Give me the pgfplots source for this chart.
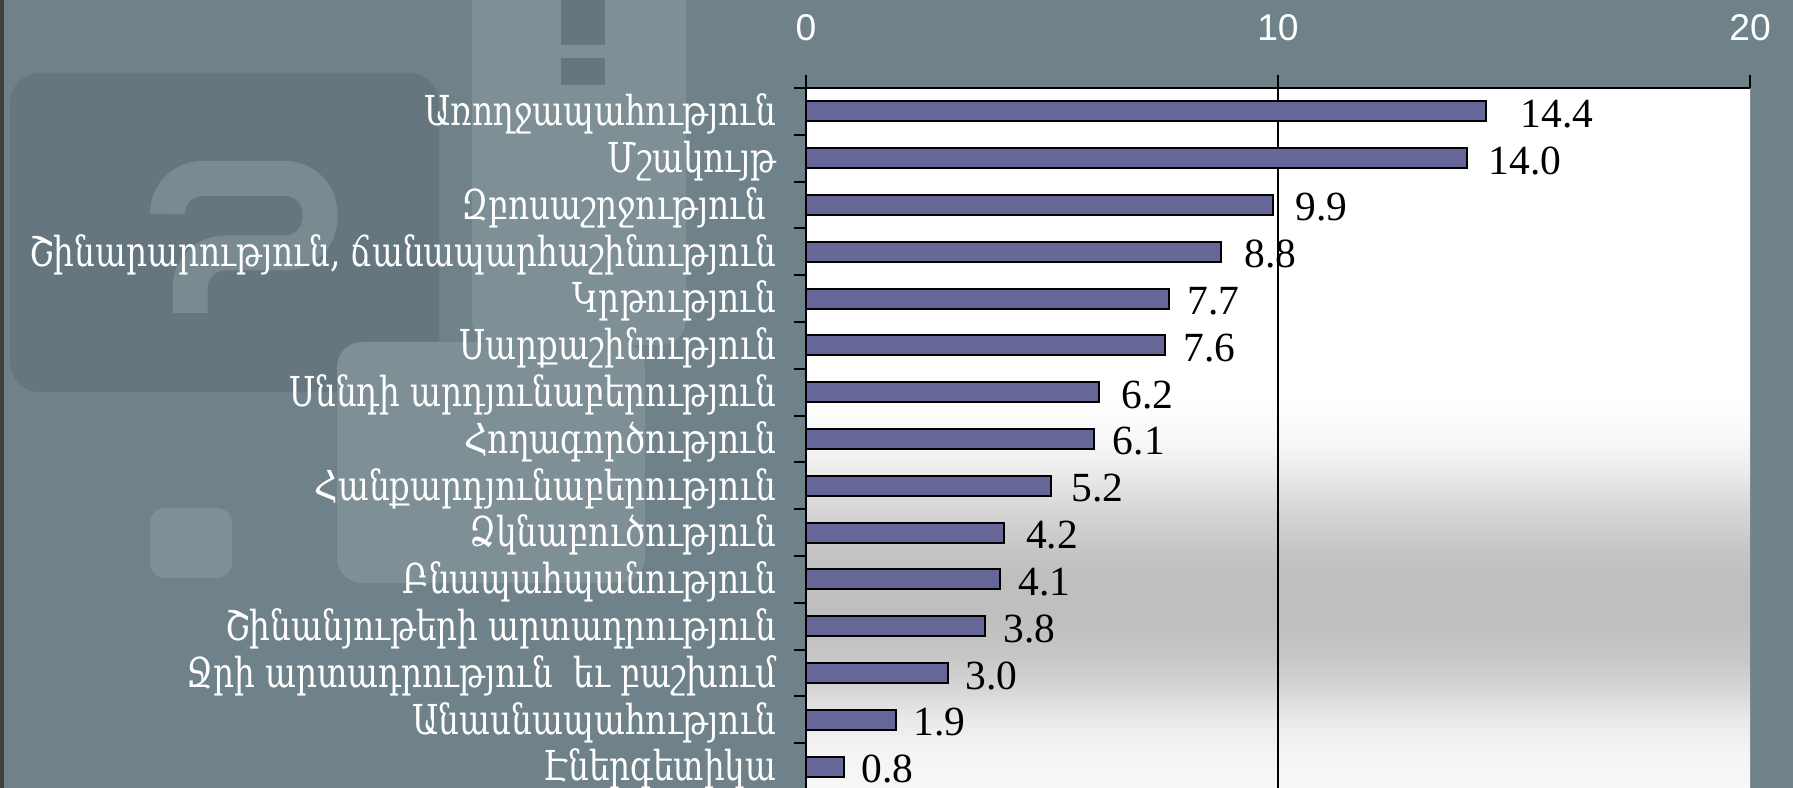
\documentclass[border=0pt]{standalone}
\usepackage{fontspec}
\setmainfont{Liberation Serif}
\newfontfamily\armfont[FakeStretch=0.88]{DejaVu Serif Condensed}
\newfontfamily\tickfont{Liberation Sans}
\usepackage{pgfplots}
\usepackage{pgfplotstable}
\pgfplotsset{compat=1.18}

\definecolor{bgc}{RGB}{112,130,137}
\definecolor{bgdark}{RGB}{101,118,126}
\definecolor{bglight}{RGB}{126,143,150}
\definecolor{barc}{RGB}{102,102,153}

% plot area: white on top, grey band low down, light again at the bottom
\pgfdeclareverticalshading{plotbg}{100bp}{
  color(0bp)=(white!97!black);
  color(25bp)=(white!97!black);
  color(27.4bp)=(white!96!black);
  color(29.9bp)=(white!92!black);
  color(32.2bp)=(white!84!black);
  color(34.4bp)=(white!78!black);
  color(37bp)=(white!75!black);
  color(40.2bp)=(white!75!black);
  color(41.8bp)=(white!77!black);
  color(45bp)=(white!84!black);
  color(47.6bp)=(white!92!black);
  color(49.9bp)=(white!97!black);
  color(53bp)=(white);
  color(100bp)=(white)}

% idx from the top, value, gap before the label (pt)
\pgfplotstableread{
idx val dx
0  14.4 13.6
1  14.0 8.4
2  9.9  8.4
3  8.8  8.8
4  7.7  6.8
5  7.6  7.2
6  6.2  8.8
7  6.1  7.2
8  5.2  7.6
9  4.2  8.4
10 4.1  7.2
11 3.8  6.8
12 3.0  6.8
13 1.9  6.8
14 0.8  6.8
}\datatable

\begin{document}
\begin{tikzpicture}[x=1pt,y=1pt]
  % slide background
  \fill[bgc] (0,0) rectangle (717.2,315.2);
  \fill[bgdark, rounded corners=12pt] (4,158.4) rectangle (175.6,286);
  % faint question mark
  \draw[bglight!80!bgdark, line width=14pt, rounded corners=14pt]
    (67,230) -- (67,243.8) -- (128,243.8) -- (128,214) -- (76,214) -- (76,190);
  \fill[bglight, rounded corners=6pt] (60,84) rectangle (92.8,112);
  \fill[bglight, rounded corners=10pt] (188.8,177.2) rectangle (274.4,330);
  \fill[bgdark] (224.4,297.2) rectangle (242,320);
  \fill[bgdark] (224.4,281.2) rectangle (242,292);
  \fill[bglight, rounded corners=10pt] (134.8,82) rectangle (258,178.4);
  \fill[black!75] (0,0) rectangle (1.6,315.2);

  \begin{axis}[
    at={(322.4pt,-0.8pt)}, anchor=south west,
    width=377.6pt, height=280.8pt, scale only axis,
    xmin=0, xmax=20, ymin=-0.5, ymax=14.5, y dir=reverse,
    axis x line*=top, axis y line*=left,
    axis line style={black, line width=0.8pt},
    axis background/.style={shade, shading=plotbg},
    tick align=outside, major tick length=5pt,
    tick style={black, line width=0.8pt},
    xtick={0,10,20}, xticklabels={0,10,20},
    xticklabel style={font=\tickfont\fontsize{14.9}{17}\selectfont,
      text=white, inner sep=0pt, anchor=south, yshift=13.5pt},
    extra x ticks={10}, extra x tick labels={},
    extra x tick style={grid=major, major grid style={black, line width=0.6pt}},
    ytick={-0.5,0.5,...,14.5},
    yticklabels={
      Առողջապահություն,
      Մշակույթ,
      Զբոսաշրջություն\kern4pt,
      {Շինարարություն, ճանապարհաշինություն},
      Կրթություն,
      Սարքաշինություն,
      Սննդի արդյունաբերություն,
      Հողագործություն,
      Հանքարդյունաբերություն,
      Ձկնաբուծություն,
      Բնապահպանություն,
      Շինանյութերի արտադրություն,
      Ջրի արտադրություն\ \ եւ բաշխում,
      Անասնապահություն,
      Էներգետիկա,
      {}},
    yticklabel style={font=\armfont\fontsize{16.5}{19}\selectfont,
      text=white, inner sep=0pt, anchor=east, xshift=-6.6pt, yshift=-10.4pt},
    /pgf/number format/assume math mode=true,
    /pgf/number format/.cd, fixed, fixed zerofill, precision=1,
  ]
    \addplot[xbar, bar width=8pt, fill=barc, draw=black, line width=0.8pt,
      point meta=explicit,
      visualization depends on={\thisrow{dx} \as \dx},
      nodes near coords,
      every node near coord/.append style={anchor=west, inner sep=0pt,
        xshift=\dx pt, yshift=-1pt, text=black,
        font=\fontsize{16.6}{18}\selectfont}]
      table[x=val, y=idx, meta=val]{\datatable};
  \end{axis}
  \pgfresetboundingbox
  \useasboundingbox (0,0) rectangle (717.2,315.2);
\end{tikzpicture}
\end{document}
